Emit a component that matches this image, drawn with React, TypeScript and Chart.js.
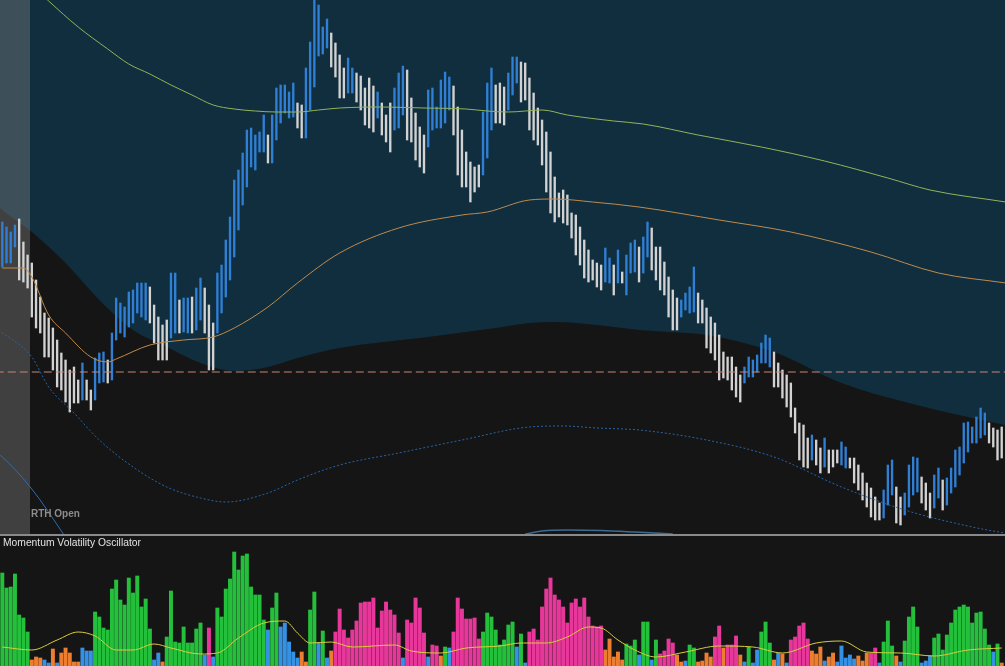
import React, { useEffect, useRef } from "react";
import { Chart, registerables } from "chart.js";

Chart.register(...registerables);

// ---------------- data ----------------
// bar index (one bar per time period)
const barIndex: number[] = Array.from({ length: 238 }, (_, i) => i);

const priceHigh = [
  312, 307, 302, 309, 315, 292, 279, 271, 254, 237,
  221, 216, 206, 194, 181, 174, 164, 167, 154, 171,
  154, 144, 176, 181, 182, 174, 201, 236, 231, 227,
  242, 244, 251, 251, 251, 247, 229, 217, 209, 214,
  261, 261, 234, 236, 236, 237, 246, 256, 246, 229,
  211, 261, 269, 294, 317, 354, 364, 381, 404, 406,
  399, 402, 419, 399, 419, 446, 449, 449, 442, 451,
  431, 429, 466, 492, 534, 529, 507, 515, 501, 491,
  479, 466, 476, 466, 461, 458, 446, 456, 448, 442,
  431, 419, 431, 446, 461, 468, 464, 436, 421, 407,
  399, 444, 446, 427, 454, 462, 457, 448, 427, 404,
  382, 372, 367, 369, 422, 451, 466, 449, 451, 447,
  461, 477, 477, 472, 471, 456, 441, 426, 414, 402,
  382, 357, 341, 344, 339, 321, 319, 307, 294, 284,
  274, 271, 269, 286, 276, 269, 284, 262, 279, 291,
  294, 287, 297, 312, 306, 287, 287, 272, 257, 244,
  236, 234, 241, 247, 267, 241, 234, 226, 217, 211,
  199, 182, 177, 177, 167, 159, 167, 177, 174, 179,
  191, 199, 196, 182, 171, 164, 159, 151, 126, 111,
  109, 96, 99, 94, 86, 96, 84, 84, 84, 92,
  87, 76, 76, 69, 61, 51, 46, 37, 31, 44,
  69, 74, 47, 37, 41, 69, 77, 76, 57, 51,
  41, 59, 66, 54, 56, 66, 84, 87, 111, 112,
  107, 117, 126, 121, 111, 106, 104, 107,
];

const priceLow = [
  267, 271, 271, 287, 254, 252, 246, 217, 206, 201,
  177, 177, 164, 147, 144, 132, 122, 131, 131, 134,
  134, 124, 134, 151, 152, 151, 154, 194, 201, 197,
  207, 211, 221, 217, 214, 211, 191, 174, 174, 174,
  196, 201, 201, 202, 201, 201, 204, 214, 201, 164,
  164, 201, 221, 237, 254, 277, 304, 329, 347, 367,
  364, 382, 382, 371, 371, 394, 411, 421, 416, 417,
  406, 396, 396, 424, 447, 478, 480, 486, 467, 457,
  436, 436, 441, 441, 432, 424, 409, 406, 402, 416,
  399, 392, 382, 404, 406, 419, 394, 392, 374, 367,
  361, 387, 404, 406, 406, 411, 424, 399, 359, 347,
  347, 332, 342, 347, 359, 376, 404, 411, 411, 409,
  424, 439, 451, 432, 434, 404, 394, 389, 369, 342,
  321, 312, 317, 311, 309, 296, 279, 269, 256, 252,
  254, 247, 244, 252, 251, 239, 251, 251, 239, 261,
  262, 252, 261, 277, 264, 254, 244, 239, 217, 204,
  204, 217, 224, 221, 222, 211, 211, 186, 181, 174,
  154, 156, 154, 144, 137, 132, 151, 157, 157, 162,
  171, 171, 167, 147, 147, 136, 127, 117, 101, 74,
  67, 66, 74, 69, 61, 67, 61, 67, 71, 69,
  66, 66, 51, 44, 34, 27, 17, 14, 14, 16,
  29, 39, 11, 9, 19, 27, 39, 42, 31, 24,
  16, 26, 36, 24, 29, 41, 47, 59, 71, 82,
  91, 91, 96, 99, 91, 87, 74, 76,
];

// B = up bar (blue), W = down bar (white)
const priceDir = (
  "BBBBWWWWWW" + "WWWWWWWWWB" + "WWBBBWBBBB" + "BBBBBWWWWW" + "BBWBBWBBWW" +
  "WBBBBBBBBB" + "BBBWBBBBBB" + "WWBBBBBBWW" + "WWBBWWWWWB" + "WWWBBBWWWW" +
  "WBBBBBBWWW" + "WWWWBBBWWW" + "BBBWWWWWWW" + "WWWWWWWWWW" + "WWWBBWBWBB" +
  "BWBBWWWWWW" + "WBBBBWWWWW" + "WWWWWWBBBB" + "BBBWWWWWWW" + "WWBWWBWWWB" +
  "BWWWWWWWWB" + "BBWWBBBBWW" + "WBBWBBBBBB" + "BBBBWWWW"
).split("");

// reference level (dashed)
const rthOpenLevel = 162;
// RTH open session start (bar index)
const rthOpenStart = 6.57;

// study lines: [bar index, value]
const slowAverage: [number, number][] = [
  [0, 577], [11, 533], [18, 507], [25, 485], [30, 470], [35, 460], [40, 449], [45, 439],
  [50, 429], [55, 425], [60, 423], [65, 422], [70, 422], [75, 424], [80, 426], [90, 427],
  [100, 426], [110, 425], [115, 423], [120, 422], [128, 424], [134, 419], [145, 413],
  [152, 410], [165, 399], [180, 387], [195, 373], [210, 356], [220, 344], [238, 332],
];

const fastAverage: [number, number][] = [
  [0, 266], [5, 266], [7, 257], [11, 219], [15, 201], [21, 177], [25, 172], [27, 175],
  [35, 189], [43, 194], [50, 197], [55, 206], [63, 227], [70, 251], [80, 281], [94, 306],
  [109, 319], [115, 322], [125, 334], [131, 335], [140, 332], [151, 327], [170, 314],
  [187, 302], [206, 282], [222, 261], [238, 251],
];

const cloudEdge: [number, number][] = [
  [-1, 328], [0, 324], [7, 302], [15, 271], [23, 234], [31, 204], [39, 187], [47, 171],
  [55, 163], [63, 167], [70, 176], [80, 186], [101, 197], [117, 206], [125, 211],
  [131, 212], [141, 209], [151, 204], [158, 202], [167, 199], [183, 182], [199, 151],
  [214, 132], [230, 116], [239, 108],
];

const lowerBand: [number, number][] = [
  [-1, 203], [0, 201], [7, 177], [11, 147], [17, 121], [23, 94], [31, 67], [39, 47],
  [47, 36], [53, 32], [63, 41], [70, 54], [80, 69], [94, 81], [109, 94], [125, 107],
  [133, 108], [141, 106], [151, 104], [167, 94], [183, 77], [199, 47], [214, 24],
  [230, 7], [239, 0],
];

const outerBand: [number, number][] = [
  [-1, 80], [0, 77], [7, 45], [14, 3], [16, -10],
];

const lowerArc: [number, number][] = [
  [124, 0], [128, 3], [134, 4], [142, 3.5], [150, 2], [159, 0],
];

// oscillator
const oscValue = [
  93, 78, 79, 92, 51, 48, 34, 6, 9, 8,
  6, 3, 17, 3, 13, 18, 13, 4, 4, 18,
  15, 15, 54, 49, 38, 36, 77, 86, 66, 61,
  88, 73, 90, 59, 67, 37, 6, 13, 4, 29,
  75, 24, 23, 39, 23, 23, 37, 43, 11, 38,
  9, 58, 49, 77, 87, 114, 96, 110, 112, 79,
  71, 71, 46, 36, 58, 73, 39, 43, 24, 14,
  8, 14, 4, 56, 74, 23, 35, 8, 15, 34,
  57, 36, 28, 36, 45, 63, 64, 64, 68, 38,
  55, 64, 56, 51, 33, 8, 46, 43, 68, 58,
  33, 9, 21, 20, 10, 19, 18, 34, 68, 57,
  47, 47, 48, 27, 34, 53, 49, 36, 21, 26,
  41, 44, 19, 32, 3, 34, 37, 26, 59, 77,
  88, 71, 66, 59, 43, 63, 67, 59, 68, 49,
  40, 39, 40, 16, 27, 9, 14, 6, 22, 20,
  26, 11, 44, 44, 6, 26, 12, 15, 27, 23,
  11, 4, 5, 21, 18, 4, 5, 13, 9, 29,
  40, 18, 21, 21, 30, 11, 4, 19, 3, 16,
  34, 44, 23, 6, 13, 12, 3, 26, 29, 40,
  43, 27, 15, 12, 19, 5, 9, 13, 4, 20,
  8, 11, 7, 10, 5, 13, 13, 18, 3, 24,
  45, 20, 10, 4, 25, 49, 59, 39, 3, 5,
  10, 28, 32, 16, 31, 43, 56, 59, 61, 59,
  43, 53, 54, 37, 21, 14, 22, 3,
];

// G = strong up, B = weak up, P = strong down, O = weak down
const oscState = (
  "GGGGGGGOOO" + "BBOBOOOOOB" + "BBGGGGGGGG" + "GGGGGGBBOG" + "GGGGGGGGBP" +
  "BGGGGGGGGG" + "GGGBGGBBBB" + "BOOGGBGBOP" + "PPPPPPPPPP" + "PPPPPBPPPP" +
  "PBPPOGBPPP" + "PPPPGGGGGG" + "GGBGBPPPPP" + "PPPPPPPPPP" + "PPPOOOOOGG" +
  "GBGGBGPPPP" + "OOBGGOOOOP" + "POPPPOBGBB" + "GGGOBOBPPP" + "PPOOOBOOBB" +
  "BBBOOOPPBG" + "GGOBGGGGBB" + "BGGGGGGGGG" + "GGGGGBGO"
).split("");

const oscSignal: [number, number][] = [
  [0, 19], [7, 16], [13, 26], [18, 34], [22, 30], [27, 16], [31, 16], [36, 22], [40, 18],
  [47, 12], [51, 13], [56, 28], [62, 43], [67, 45], [70, 33], [73, 23], [78, 24], [83, 19],
  [93, 21], [97, 15], [104, 13], [110, 18], [118, 20], [123, 23], [129, 23], [134, 29],
  [139, 39], [142, 38], [146, 26], [150, 16], [155, 9], [162, 14], [170, 20], [178, 19],
  [185, 13], [193, 23], [199, 25], [205, 14], [213, 13], [221, 10], [229, 16], [237, 18],
];

// ---------------- styling ----------------
const X_MIN = -0.545;
const X_MAX = 237.78;
const BG = "#151515";
const TEAL = "#102e3e";
const OSC_COLORS: Record<string, string> = {
  G: "#24c03c",
  B: "#3591e4",
  P: "#e8379a",
  O: "#ee7e2f",
};

const pts = (arr: [number, number][]) => arr.map(([x, y]) => ({ x, y }));

export default function App() {
  const topRef = useRef<HTMLCanvasElement | null>(null);
  const botRef = useRef<HTMLCanvasElement | null>(null);

  useEffect(() => {
    if (!topRef.current || !botRef.current) return;

    const xScale = {
      type: "linear" as const,
      min: X_MIN,
      max: X_MAX,
      display: false,
      offset: false,
      grid: { offset: false },
    };

    const lineBase = {
      type: "line" as const,
      pointRadius: 0,
      borderWidth: 1,
      fill: false,
      cubicInterpolationMode: "monotone" as const,
    };

    const top = new Chart(topRef.current, {
      type: "bar",
      data: {
        datasets: [
          {
            ...lineBase,
            label: "slow average",
            data: pts(slowAverage),
            borderColor: "#93b35a",
            order: 1,
          },
          {
            ...lineBase,
            label: "fast average",
            data: pts(fastAverage),
            borderColor: "#c08a4c",
            order: 1,
          },
          {
            ...lineBase,
            label: "lower band",
            data: pts(lowerBand),
            borderColor: "#2a63a6",
            borderDash: [2, 2],
            order: 1,
          },
          {
            ...lineBase,
            label: "outer band",
            data: pts(outerBand),
            borderColor: "#2e6cb2",
            order: 1,
          },
          {
            ...lineBase,
            label: "arc",
            data: pts(lowerArc),
            borderColor: "#3c6b94",
            borderWidth: 1.5,
            order: 1,
          },
          {
            ...lineBase,
            label: "RTH open level",
            data: [
              { x: X_MIN - 1, y: rthOpenLevel },
              { x: X_MAX + 1, y: rthOpenLevel },
            ],
            borderColor: "#c7857a",
            borderDash: [8, 4],
            order: 2,
          },
          {
            type: "bar" as const,
            label: "price",
            data: barIndex.map((i) => ({ x: i, y: [priceLow[i], priceHigh[i]] })) as any,
            backgroundColor: priceDir.map((d) => (d === "B" ? "#2f7fd4" : "#d2d2d2")),
            barThickness: 1.7,
            borderWidth: 0,
            order: 3,
          },
          {
            ...lineBase,
            label: "RTH open zone",
            data: [
              { x: X_MIN - 1, y: 534 },
              { x: rthOpenStart, y: 534 },
            ],
            borderWidth: 0,
            borderColor: "rgba(0,0,0,0)",
            backgroundColor: "rgba(140,140,140,0.36)",
            fill: "start",
            cubicInterpolationMode: "default" as const,
            tension: 0,
            order: 8,
          },
          {
            ...lineBase,
            label: "cloud",
            data: pts(cloudEdge),
            borderWidth: 0,
            borderColor: "rgba(0,0,0,0)",
            backgroundColor: TEAL,
            fill: "end",
            order: 9,
          },
        ] as any,
      },
      options: {
        responsive: false,
        animation: false,
        devicePixelRatio: 1,
        layout: { padding: 0 },
        plugins: { legend: { display: false }, tooltip: { enabled: false } },
        scales: {
          x: xScale,
          y: { type: "linear", min: 0, max: 534, display: false },
        },
      } as any,
    });

    const bot = new Chart(botRef.current, {
      type: "bar",
      data: {
        datasets: [
          {
            ...lineBase,
            label: "signal",
            data: pts(oscSignal),
            borderColor: "#d8cd3c",
            order: 0,
          },
          {
            type: "bar" as const,
            label: "Momentum Volatility Oscillator",
            data: barIndex.map((i) => ({ x: i, y: oscValue[i] })),
            backgroundColor: oscState.map((s) => OSC_COLORS[s] || OSC_COLORS.G),
            barThickness: 3.3,
            borderWidth: 0,
            order: 1,
          },
        ] as any,
      },
      options: {
        responsive: false,
        animation: false,
        devicePixelRatio: 1,
        layout: { padding: 0 },
        plugins: { legend: { display: false }, tooltip: { enabled: false } },
        scales: {
          x: xScale,
          y: { type: "linear", min: 0, max: 130, display: false },
        },
      } as any,
    });

    return () => {
      top.destroy();
      bot.destroy();
    };
  }, []);

  return (
    <div
      style={{
        position: "fixed",
        left: 0,
        top: 0,
        width: 1005,
        height: 666,
        background: BG,
        overflow: "hidden",
      }}
    >
      <canvas
        ref={topRef}
        width={1005}
        height={534}
        style={{ position: "absolute", left: 0, top: 0, display: "block" }}
      />
      <div
        style={{
          position: "absolute",
          left: 0,
          top: 534,
          width: 1005,
          height: 2,
          background: "#8a8a8a",
        }}
      />
      <canvas
        ref={botRef}
        width={1005}
        height={130}
        style={{ position: "absolute", left: 0, top: 536, display: "block" }}
      />
      <div
        style={{
          position: "absolute",
          left: 31,
          top: 507,
          color: "#8c8c8c",
          font: 'bold 10px "Liberation Sans", Arial, sans-serif',
          lineHeight: "14px",
          whiteSpace: "nowrap",
        }}
      >
        RTH Open
      </div>
      <div
        style={{
          position: "absolute",
          left: 3,
          top: 536,
          color: "#e2e2e2",
          font: '10.3px "Liberation Sans", Arial, sans-serif',
          lineHeight: "14px",
          whiteSpace: "nowrap",
        }}
      >
        Momentum Volatility Oscillator
      </div>
    </div>
  );
}
